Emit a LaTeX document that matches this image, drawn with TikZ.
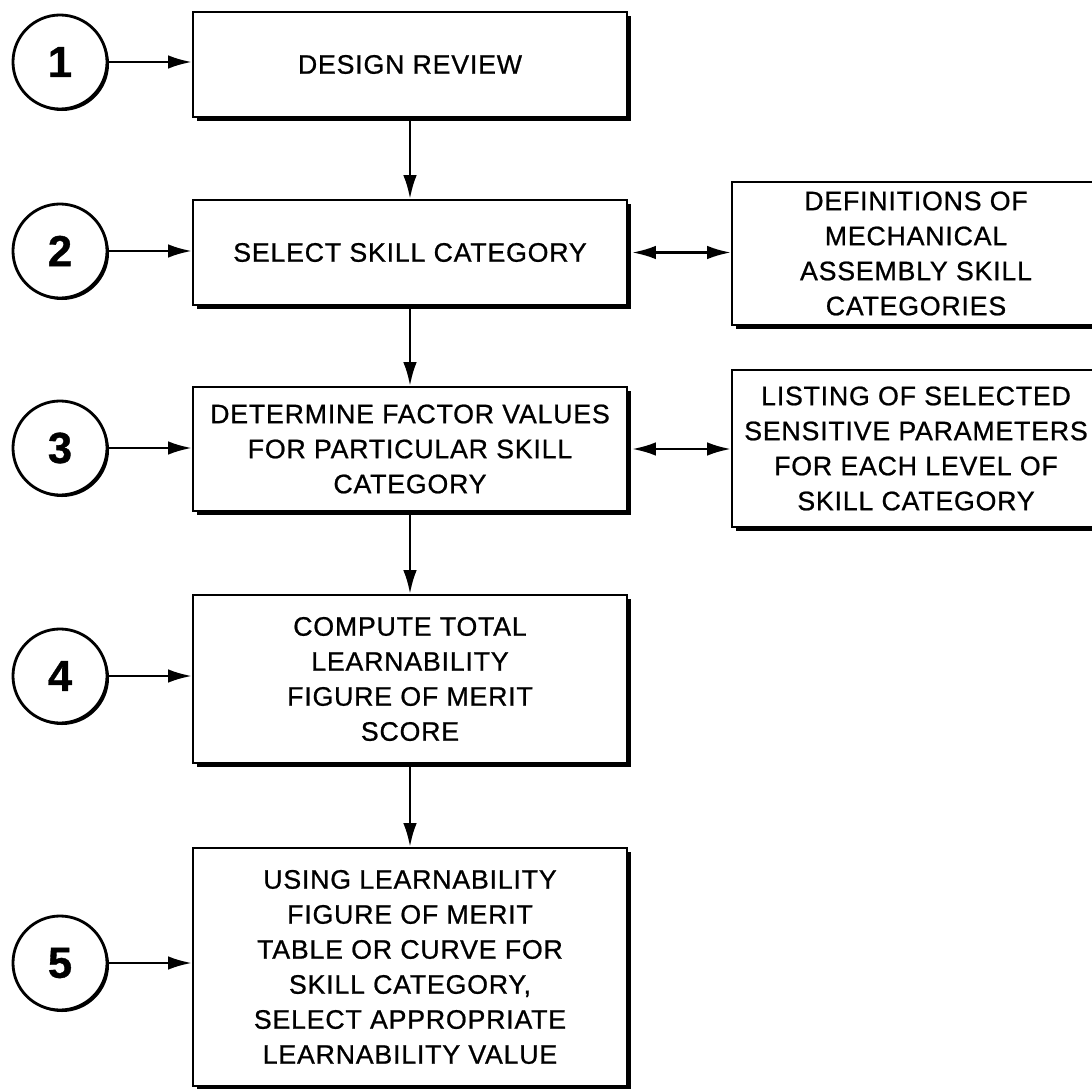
\documentclass[tikz,border=0pt]{standalone}
\usepackage{fontspec}
\setmainfont{Liberation Sans}[LetterSpace=3, FakeBold=0.8]
\usepackage{tikz}
\usetikzlibrary{arrows.meta, shadows}

\begin{document}
\begin{tikzpicture}[
    x=0.025cm, y=-0.025cm,
    procbox/.style={draw, line width=1.3pt, fill=white, align=center,
        minimum width=10.85cm, inner sep=0pt,
        font=\fontsize{19pt}{24.9pt}\selectfont,
        drop shadow={shadow xshift=0.1cm, shadow yshift=-0.1cm, fill=black, opacity=1}},
    refbox/.style={procbox, minimum width=9.2cm},
    numcircle/.style={draw, circle, line width=2pt, fill=white, minimum size=2.35cm,
        inner sep=0pt, font=\fontsize{31pt}{31pt}\selectfont\bfseries,
        drop shadow={shadow xshift=0.05cm, shadow yshift=-0.05cm, fill=black, opacity=1}},
    flow/.style={line width=2pt, -{Latex[length=0.6cm, width=0.34cm]}},
    link/.style={line width=2pt, {Latex[length=0.6cm, width=0.34cm]}-{Latex[length=0.6cm, width=0.34cm]}}
]
\useasboundingbox (0,0) rectangle (1092,1089);

% ================================================================
% Hauptablauf (Schritte 1--5)
% ================================================================
\node[procbox, minimum height=2.625cm] (b1) at (410,64.5) {DESIGN REVIEW};
\node[procbox, minimum height=2.625cm] (b2) at (410,252.5) {SELECT SKILL CATEGORY};
\node[procbox, minimum height=3.1cm] (b3) at (410,449)
    {DETERMINE FACTOR VALUES\\FOR PARTICULAR SKILL\\CATEGORY};
\node[procbox, minimum height=4.2cm] (b4) at (410,679)
    {COMPUTE TOTAL\\LEARNABILITY\\FIGURE OF MERIT\\SCORE};
\node[procbox, minimum height=5.95cm] (b5) at (410,967)
    {USING LEARNABILITY\\FIGURE OF MERIT\\TABLE OR CURVE FOR\\SKILL CATEGORY,\\SELECT APPROPRIATE\\LEARNABILITY VALUE};

% senkrechte Pfeile
\foreach \a/\b in {b1/b2, b2/b3, b3/b4, b4/b5}
    \draw[flow] (\a.south) -- (\b.north);

% ================================================================
% Nachschlagekästen rechts
% ================================================================
\node[refbox, minimum height=3.575cm] (r1) at (916,253.5)
    {DEFINITIONS OF\\MECHANICAL\\ASSEMBLY SKILL\\CATEGORIES};
\node[refbox, minimum height=3.925cm] (r2) at (916,448.5)
    {LISTING OF SELECTED\\SENSITIVE PARAMETERS\\FOR EACH LEVEL OF\\SKILL CATEGORY};

\draw[link] ([xshift=0.1cm]b2.east) -- (b2.east -| r1.west);
\draw[link] ([xshift=0.1cm]b3.east) -- (b3.east -| r2.west);

% ================================================================
% Schrittnummern links
% ================================================================
\foreach \n/\y in {1/62, 2/251, 3/448, 4/676, 5/963} {
    \node[numcircle] (c\n) at (60,\y) {\n};
    \draw[flow] (c\n.east) -- (c\n.east -| b\n.west);
}

\end{tikzpicture}
\end{document}
